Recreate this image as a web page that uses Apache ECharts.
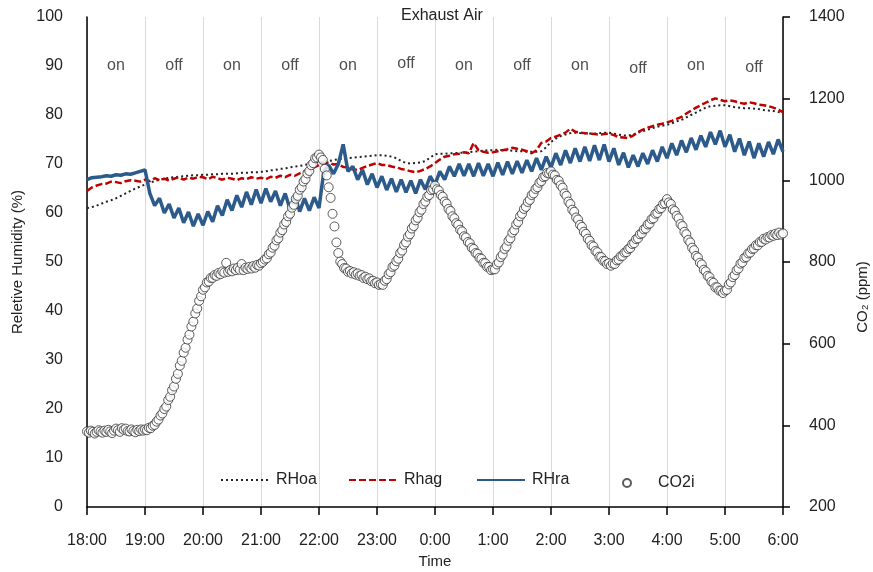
<!DOCTYPE html>
<html>
<head>
<meta charset="utf-8">
<script src="https://cdn.jsdelivr.net/npm/echarts@6/dist/echarts.min.js"></script>
<style>
html,body{margin:0;padding:0;background:#fff;}
#chart{width:873px;height:572px;}
</style>
</head>
<body>
<div id="chart"></div>
<script>
// ---- data ----
var timeLabels = ['18:00','19:00','20:00','21:00','22:00','23:00','0:00','1:00','2:00','3:00','4:00','5:00','6:00'];
var onOffLabels = ['on','off','on','off','on','off','on','off','on','off','on','off'];
var onOffY = [90, 90, 90, 90, 90, 90.5, 90, 90, 90, 89.5, 90, 89.6];

// RH series, one value every 5 minutes from 18:00 to 6:00
var rhoa = [
61.0,61.2,61.5,61.9,62.3,62.6,63.0,63.5,64.0,64.5,65.0,65.4,
65.8,66.2,66.5,66.8,67.0,67.2,67.3,67.4,67.5,67.6,67.7,67.7,
67.8,67.8,67.9,67.9,68.0,68.0,68.0,68.1,68.2,68.2,68.3,68.3,
68.4,68.5,68.7,68.8,69.0,69.1,69.3,69.5,69.6,69.8,70.0,70.1,
70.2,70.4,70.6,70.8,71.0,71.1,71.2,71.3,71.4,71.5,71.6,71.7,
71.8,71.8,71.7,71.5,71.2,70.6,70.2,70.1,70.2,70.3,70.6,71.3,
72.0,72.1,72.1,72.2,72.2,72.3,72.3,72.4,72.5,72.6,72.7,72.8,
72.8,72.9,72.8,72.8,72.7,72.6,72.6,72.5,72.5,72.5,72.6,73.4,
74.5,75.2,75.7,76.0,76.3,76.4,76.3,76.2,76.2,76.2,76.3,76.4,
76.4,76.2,76.0,75.8,75.8,76.0,76.4,76.7,77.0,77.3,77.6,77.8,
78.0,78.3,78.7,79.0,79.5,80.0,80.5,81.0,81.5,81.8,81.9,82.0,
82.0,81.8,81.6,81.5,81.4,81.4,81.3,81.2,81.0,80.9,80.8,80.6,
80.5];
var rhag = [
64.5,65.2,65.6,65.9,66.0,66.4,66.3,66.1,66.5,66.7,66.6,66.4,
66.8,66.5,67.1,66.7,67.0,66.6,67.0,67.3,66.8,67.2,67.0,67.4,
67.3,66.9,67.4,67.1,66.8,67.2,67.0,66.7,67.1,66.9,67.3,67.0,
67.2,66.9,67.4,67.2,67.6,67.3,67.8,67.6,68.1,68.5,68.8,69.3,
69.8,70.1,70.3,69.9,70.0,69.4,69.3,68.9,68.8,69.2,69.6,69.9,
70.2,69.8,69.8,69.5,69.3,69.0,68.8,68.5,68.3,68.6,69.0,69.5,
70.2,70.9,71.5,71.7,72.0,72.1,72.4,72.2,74.3,72.8,72.5,72.3,
72.4,72.6,72.8,73.0,73.3,73.1,72.9,72.6,72.2,72.8,74.3,74.6,
75.3,75.6,76.0,76.4,77.2,76.6,76.4,76.3,76.2,76.1,76.0,76.1,
76.2,75.9,75.5,75.4,75.3,75.8,76.5,77.0,77.4,77.7,78.0,78.2,
78.5,78.8,79.2,79.6,80.3,80.9,81.5,82.0,82.5,83.0,83.4,83.1,
82.8,83.0,82.8,82.5,82.3,82.6,82.4,82.1,82.0,81.8,81.5,81.1,
80.6];
var rhra = [
66.8,67.2,67.3,67.4,67.6,67.5,67.8,67.7,68.0,67.9,68.2,68.5,
68.8,64.0,61.5,63.0,60.0,61.8,59.0,61.0,58.0,60.2,57.3,59.8,
57.5,60.3,58.2,61.5,59.5,62.7,60.5,63.6,61.2,64.3,61.7,64.8,
62.0,65.0,62.3,64.5,61.5,64.0,60.8,63.5,60.3,63.0,60.5,63.2,
61.0,68.5,69.8,68.0,70.0,74.0,68.5,69.5,66.8,68.8,65.8,68.0,
65.2,67.5,64.7,67.0,64.3,66.8,64.2,66.6,64.0,66.8,64.8,67.5,
65.8,68.5,66.8,69.5,67.5,70.0,67.6,70.0,67.5,70.2,67.6,70.0,
67.5,70.3,67.8,70.5,68.0,70.6,68.2,70.8,68.5,71.2,68.8,71.5,
69.3,72.2,69.8,72.8,70.2,73.2,70.5,73.5,70.6,73.8,70.8,74.0,
70.5,73.2,69.8,72.3,69.3,71.8,69.5,72.2,70.0,72.8,70.5,73.5,
71.2,74.2,71.8,74.8,72.4,75.3,72.9,75.8,73.5,76.5,74.0,76.8,
73.5,76.0,72.5,75.2,71.8,74.6,71.2,74.2,71.5,74.5,72.0,75.0,
72.5];
// CO2 (ppm), one value every 2 minutes from 18:00 to 6:00
var co2i = [
385,382,387,384,380,384,388,385,382,387,384,389,385,381,387,392,388,384,393,389,392,386,385,390,386,383,389,386,390,387,
390,388,394,393,399,401,409,414,424,429,440,446,462,470,486,495,514,526,546,558,578,590,610,622,642,654,674,686,705,716,
732,738,750,752,761,761,768,766,773,770,777,774,798,776,780,777,784,780,786,781,795,780,786,783,788,784,790,786,793,791,
797,800,806,809,819,823,835,840,853,858,872,878,892,898,912,918,933,940,955,962,977,983,997,1003,1017,1023,1037,1042,1054,1056,
1063,1056,1050,1028,1012,983,957,918,887,848,822,801,795,785,784,776,778,772,775,769,772,766,768,761,764,758,760,753,754,748,
750,744,746,744,754,758,770,775,788,791,802,808,822,828,842,848,862,868,882,888,902,908,922,928,942,948,960,964,976,978,
987,978,975,964,960,948,943,930,925,912,907,895,891,879,875,863,860,849,846,835,832,822,820,810,808,798,797,788,788,780,
782,782,794,799,812,818,832,838,852,858,872,878,892,898,912,918,930,935,947,952,964,968,979,983,994,998,1008,1010,1018,1017,
1022,1014,1012,1001,999,988,982,968,962,948,942,928,923,909,904,891,886,874,869,857,852,841,838,827,824,813,812,803,802,795,
797,791,796,795,804,806,814,815,823,824,832,834,844,846,856,858,868,870,880,882,892,894,905,907,918,920,930,932,942,944,
954,946,942,929,925,913,907,893,888,874,868,854,848,835,829,815,811,798,794,781,777,766,763,752,749,738,738,730,730,724,
730,732,745,750,763,768,780,784,796,799,810,812,821,823,832,833,841,841,849,849,857,855,861,860,866,864,869,866,872,867,
870];

// ---- build ----
function pairs(arr, step){ return arr.map(function(v,i){ return [i*step, v]; }); }
var onOffData = onOffLabels.map(function(t,i){ return {value:[i*60+30, onOffY[i]], name:t}; });

var FONT = '"Liberation Sans", Arial, sans-serif';
var chart = echarts.init(document.getElementById('chart'), null, {renderer:'canvas'});
var legendBase = {orient:'horizontal', itemWidth:48, itemHeight:14, itemGap:10, padding:0,
  itemStyle:{opacity:0, borderWidth:0},
  textStyle:{fontSize:16, color:'#222', fontFamily:FONT, padding:[0,0,0,2]}, selectedMode:false};
chart.setOption({
  animation:false,
  backgroundColor:'#fff',
  title:{text:'Exhaust Air', left:396, top:3, textStyle:{fontSize:16, fontWeight:'normal', color:'#222', fontFamily:FONT}},
  grid:{left:87, right:90, top:17, bottom:65, containLabel:false, outerBoundsMode:'none'},
  legend:[
    Object.assign({}, legendBase, {data:['RHoa'], left:220, top:472}),
    Object.assign({}, legendBase, {data:['Rhag'], left:348, top:472}),
    Object.assign({}, legendBase, {data:['RHra'], left:476, top:472}),
    Object.assign({}, legendBase, {data:['CO2i'], left:622, top:475, itemHeight:8, itemStyle:{}})
  ],
  xAxis:{
    type:'value', min:0, max:720, interval:60,
    name:'Time', nameLocation:'middle', nameGap:41,
    nameTextStyle:{fontSize:15, color:'#222', fontFamily:FONT},
    axisLine:{show:true, lineStyle:{color:'#000', width:1.5}},
    axisTick:{show:true, length:8, lineStyle:{color:'#000', width:1.5}},
    axisLabel:{margin:26, fontSize:16, color:'#222', fontFamily:FONT,
      formatter:function(v){ return timeLabels[Math.round(v/60)]; }},
    splitLine:{show:true, lineStyle:{color:'#d9d9d9', width:1}}
  },
  yAxis:[
    {type:'value', min:0, max:100, interval:10, position:'left',
     name:'Reletive Humidity (%)', nameLocation:'middle', nameGap:59, nameRotate:90,
     nameTextStyle:{fontSize:15, color:'#222', fontFamily:FONT},
     axisLine:{show:true, lineStyle:{color:'#000', width:1.5}},
     axisTick:{show:false},
     axisLabel:{margin:24, fontSize:16, color:'#222', fontFamily:FONT,
       formatter:function(v){ return String(v); }},
     splitLine:{show:false}},
    {type:'value', min:200, max:1400, interval:200, position:'right',
     name:'CO₂ (ppm)', nameLocation:'middle', nameGap:70, nameRotate:90,
     nameTextStyle:{fontSize:15, color:'#222', fontFamily:FONT, padding:[0,70,0,0]},
     axisLine:{show:true, lineStyle:{color:'#000', width:1.5}},
     axisTick:{show:true, length:7, lineStyle:{color:'#000', width:1.5}},
     axisLabel:{margin:26, fontSize:16, color:'#222', fontFamily:FONT,
       formatter:function(v){ return String(v); }},
     splitLine:{show:false}}
  ],
  series:[
    {name:'RHoa', type:'line', yAxisIndex:0, data:pairs(rhoa,5), symbol:'none', smooth:false,
     lineStyle:{color:'#222', width:2, type:[2,3]}, itemStyle:{color:'#222'}, z:3},
    {name:'Rhag', type:'line', yAxisIndex:0, data:pairs(rhag,5), symbol:'none',
     lineStyle:{color:'#c00000', width:2.5, type:[7,3]}, itemStyle:{color:'#c00000'}, z:3},
    {name:'RHra', type:'line', yAxisIndex:0, data:pairs(rhra,5), symbol:'none',
     lineStyle:{color:'#2c5a8a', width:3.5}, itemStyle:{color:'#2c5a8a'}, z:3},
    {name:'CO2i', type:'scatter', yAxisIndex:1, data:pairs(co2i,2), symbol:'circle', symbolSize:9,
     itemStyle:{color:'#fff', borderColor:'#333', borderWidth:1}, z:4},
    {name:'onoff', type:'scatter', yAxisIndex:0, data:onOffData, symbolSize:0, silent:true,
     label:{show:true, position:'inside', formatter:function(p){ return p.name; },
       fontSize:16, color:'#222', fontFamily:FONT}, z:5}
  ]
});
</script>
</body>
</html>
